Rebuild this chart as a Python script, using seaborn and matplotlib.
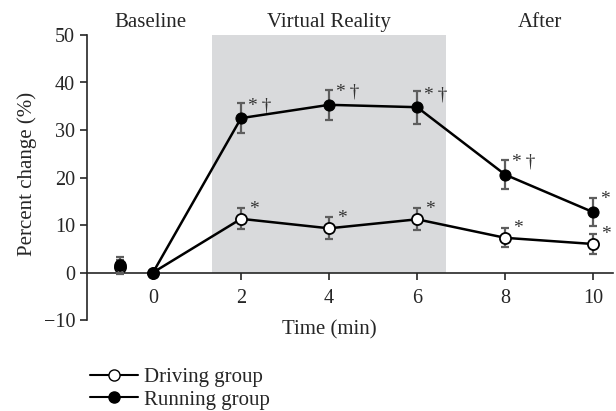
import numpy as np
import pandas as pd
import matplotlib
matplotlib.use("Agg")
import matplotlib.pyplot as plt
from matplotlib.lines import Line2D
import seaborn as sns

# data
baseline_x = -0.75
times = [0, 2, 4, 6, 8, 10]

driving_base, driving_base_err = 1.2, 1.5
driving = [0, 11.3, 9.3, 11.2, 7.3, 6.0]
driving_err = [0, 2.2, 2.3, 2.3, 2.0, 2.1]

running_base, running_base_err = 1.5, 1.7
running = [0, 32.5, 35.3, 34.8, 20.6, 12.7]
running_err = [0, 3.2, 3.1, 3.5, 3.0, 2.9]

running_marks = ["", "*\u2009\u2020", "*\u2009\u2020", "*\u2009\u2020", "*\u2009\u2020", "*"]
driving_marks = ["", "*", "*", "*", "*", "*"]

phases = ["Baseline", "Virtual Reality", "After"]
phase_x = [-0.07, 4, 8.8]
vr_span = (1.34, 6.66)

sns.set_style("ticks")
plt.rcParams["font.family"] = ["Liberation Serif", "DejaVu Serif"]
plt.rcParams["font.size"] = 14

fig = plt.figure(figsize=(6.16, 4.11), dpi=100)
ax = fig.add_axes([87 / 616, 1 - 320 / 411, 526 / 616, 285 / 411])

ax.fill_between(vr_span, 0, 50, color="#d9dadc", lw=0, zorder=0)

err_kw = dict(fmt="none", ecolor="#5e5e5e", elinewidth=1.6, capsize=3, capthick=1.6)

df_d = pd.DataFrame({"time": times, "value": driving})
df_r = pd.DataFrame({"time": times, "value": running})

# driving group
ax.errorbar(times[1:], driving[1:], yerr=driving_err[1:], zorder=2, **err_kw)
ax.errorbar([baseline_x], [driving_base], yerr=[driving_base_err], zorder=2, **err_kw)
sns.lineplot(data=df_d, x="time", y="value", ax=ax, color="black", lw=1.8,
             marker="o", markersize=8, markerfacecolor="white",
             markeredgecolor="black", markeredgewidth=1.3, zorder=3)
ax.plot([baseline_x], [driving_base], "o", ms=8, mfc="white", mec="black",
        mew=1.3, zorder=3)

# running group
ax.errorbar(times[1:], running[1:], yerr=running_err[1:], zorder=4, **err_kw)
ax.errorbar([baseline_x], [running_base], yerr=[running_base_err], zorder=4, **err_kw)
sns.lineplot(data=df_r, x="time", y="value", ax=ax, color="black", lw=1.8,
             marker="o", markersize=8, markerfacecolor="black",
             markeredgecolor="black", zorder=5)
ax.plot([baseline_x], [running_base], "o", ms=8, mfc="black", mec="black", zorder=5)

for t, v, m in zip(times, running, running_marks):
    if m:
        ax.annotate(m, (t, v), xytext=(5, 9), textcoords="offset points",
                    fontsize=14, color="#333333", va="center", ha="left")
for t, v, m in zip(times, driving, driving_marks):
    if m:
        ax.annotate(m, (t, v), xytext=(6, 7), textcoords="offset points",
                    fontsize=14, color="#333333", va="center", ha="left")

for name, px in zip(phases, phase_x):
    ax.text(px, 52.7, name, ha="center", va="center", fontsize=15)

ax.set_xlim(-1.5, 10.45)
ax.set_ylim(-10, 50)
ax.set_xticks(times)
ax.set_yticks([-10, 0, 10, 20, 30, 40, 50])
ax.set_yticklabels(["\u221210", "0", "10", "20", "30", "40", "50"])
ax.spines["bottom"].set_position(("data", 0))
ax.spines["right"].set_visible(False)
ax.spines["top"].set_visible(False)
ax.spines["left"].set_linewidth(1.2)
ax.spines["bottom"].set_linewidth(1.2)
ax.tick_params(axis="both", direction="out", length=5, width=1.2, labelsize=14.5)
ax.tick_params(axis="x", pad=7)

ax.set_xlabel("Time (min)", fontsize=15)
ax.xaxis.label.set_va("center")
ax.xaxis.set_label_coords(0.46, -0.035)
ax.set_ylabel("Percent change (%)", fontsize=15)
ax.yaxis.label.set_va("center")
ax.yaxis.set_label_coords(-0.114, 0.512)

handles = [
    Line2D([], [], color="black", lw=1.5, marker="o", ms=8, mfc="white", mec="black"),
    Line2D([], [], color="black", lw=1.5, marker="o", ms=8, mfc="black", mec="black"),
]
fig.legend(handles, ["Driving group", "Running group"], loc="upper left",
           bbox_to_anchor=(82 / 616, 1 - 359 / 411), frameon=False,
           fontsize=15, handlelength=2.3, handletextpad=0.3,
           labelspacing=0.15, borderaxespad=0)

fig.savefig("out.png", dpi=100)
